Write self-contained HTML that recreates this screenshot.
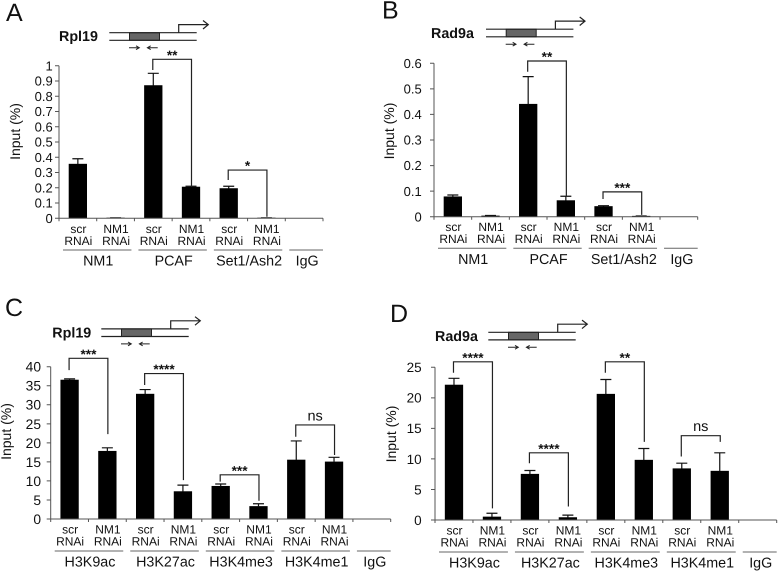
<!DOCTYPE html>
<html lang="en">
<head>
<meta charset="utf-8">
<title>Input (%) ChIP bar charts</title>
<style>
html,body{margin:0;padding:0;background:#fff;}
svg{display:block;font-family:"Liberation Sans",Arial,sans-serif;fill:#111;text-rendering:geometricPrecision;filter:blur(0.3px);}
</style>
</head>
<body>
<svg id="figure" width="778" height="572" viewBox="0 0 778 572" xmlns="http://www.w3.org/2000/svg"></svg>
<script>
const panelAGroups = ['NM1', 'PCAF', 'Set1/Ash2', 'IgG'];
const panelATicks = ['0', '0.1', '0.2', '0.3', '0.4', '0.5', '0.6', '0.7', '0.8', '0.9', '1'];
const panelAValues = [0.355, 0.002, 0.87, 0.205, 0.195, 0.002];
const panelAErrors = [0.39, 0.003, 0.95, 0.21, 0.21, 0.003];
const panelABrackets = [
  {from: 2, to: 3, top: 1.042, leftEnd: 0.972, rightEnd: 0.207, label: '**'},
  {from: 4, to: 5, top: 0.316, leftEnd: 0.251, rightEnd: 0.01, label: '*'}
];

const panelBGroups = ['NM1', 'PCAF', 'Set1/Ash2', 'IgG'];
const panelBTicks = ['0', '0.1', '0.2', '0.3', '0.4', '0.5', '0.6'];
const panelBValues = [0.078, 0.003, 0.44, 0.063, 0.04, 0.002];
const panelBErrors = [0.085, 0.005, 0.548, 0.08, 0.043, 0.003];
const panelBBrackets = [
  {from: 2, to: 3, top: 0.609, leftEnd: 0.567, rightEnd: 0.078, label: '**'},
  {from: 4, to: 5, top: 0.097, leftEnd: 0.069, rightEnd: 0.007, label: '***'}
];

const panelCGroups = ['H3K9ac', 'H3K27ac', 'H3K4me3', 'H3K4me1', 'IgG'];
const panelCTicks = ['0', '5', '10', '15', '20', '25', '30', '35', '40'];
const panelCValues = [36.5, 17.8, 32.8, 7.2, 8.6, 3.3, 15.5, 15];
const panelCErrors = [36.8, 18.7, 34, 8.9, 9.2, 4, 20.5, 16.2];
const panelCBrackets = [
  {from: 0, to: 1, top: 42.2, leftEnd: 39.1, rightEnd: 22.3, label: '***'},
  {from: 2, to: 3, top: 38.2, leftEnd: 35.2, rightEnd: 10.2, label: '****'},
  {from: 4, to: 5, top: 11.6, leftEnd: 9.8, rightEnd: 4.8, label: '***'},
  {from: 6, to: 7, top: 24.7, leftEnd: 21.6, rightEnd: 16.8, label: 'ns'}
];

const panelDGroups = ['H3K9ac', 'H3K27ac', 'H3K4me3', 'H3K4me1', 'IgG'];
const panelDTicks = ['0', '5', '10', '15', '20', '25'];
const panelDValues = [22.1, 0.5, 7.5, 0.4, 20.6, 9.8, 8.4, 8];
const panelDErrors = [23.2, 1.1, 8.1, 0.8, 23, 11.7, 9.3, 11];
const panelDBrackets = [
  {from: 0, to: 1, top: 25.9, leftEnd: 24.1, rightEnd: 1.9, label: '****'},
  {from: 2, to: 3, top: 11, leftEnd: 9.3, rightEnd: 2.2, label: '****'},
  {from: 4, to: 5, top: 25.9, leftEnd: 24.1, rightEnd: 12.8, label: '**'},
  {from: 6, to: 7, top: 13.8, leftEnd: 10.4, rightEnd: 12.8, label: 'ns'}
];

const NS = 'http://www.w3.org/2000/svg';
const root = document.getElementById('figure');

function make(tag, parent, props) {
  const el = document.createElementNS(NS, tag);
  for (const k in props) el.setAttribute(k, props[k]);
  parent.appendChild(el);
  return el;
}
function stroke(parent, d, color, width, name) {
  const el = make('path', parent, {d: d, fill: 'none', stroke: color, 'stroke-width': width});
  
  
  return el;
}
function label(parent, str, x, y, size, anchor, name, weight) {
  const el = make('text', parent, {x: x, y: y, 'font-size': size, 'text-anchor': anchor, 'font-weight': weight || 'normal'});
  el.textContent = str;
  
  
  return el;
}

function geneDiagram(parent, name, nameX, nameY, dx, dy) {
  const g = make('g', parent, {transform: 'translate(' + dx + ' ' + dy + ')'});
  
  
  label(parent, name, nameX, nameY, 14.3, 'start', 'gene-name', 'bold');
  const box = make('rect', g, {x: 129.5, y: 32.7, width: 30, height: 7.6, fill: '#666', stroke: '#222', 'stroke-width': 1});
  
  
  stroke(g, 'M109.3 32.7H196.7M109.3 40.3H196.7', '#222', 1.2, 'promoter-strands');
  stroke(g, 'M178.7 32.7V24.6H208M203 20.5L208.3 24.6L203 29', '#222', 1.2, 'tss-arrow');
  stroke(g, 'M129 47.7H139M136 45.8L139.3 47.7L136 49.6', '#222', 1, 'forward-primer');
  stroke(g, 'M157.7 47.7H147.7M150.7 45.8L147.4 47.7L150.7 49.6', '#222', 1, 'reverse-primer');
}

function drawPanel(cfg) {
  const g = make('g', root, {});
  
  

  const bandCount = cfg.values.length + 1;
  const band = (cfg.x1 - cfg.x0) / bandCount;
  const maxTick = parseFloat(cfg.ticks[cfg.ticks.length - 1]);
  const xCenter = function (i) { return cfg.x0 + band * (i + 0.5); };
  const yScale = function (v) { return cfg.y0 - (v / maxTick) * (cfg.y0 - cfg.yTop); };

  label(g, cfg.letter, cfg.letterX, cfg.letterY, 25, 'start', 'panel-letter');
  geneDiagram(g, cfg.gene, cfg.geneX, cfg.geneY, cfg.geneDx, cfg.geneDy);

  const yTitle = label(g, 'Input (%)', 0, 0, 14, 'middle', 'y-axis-title');
  yTitle.setAttribute('transform', 'translate(' + cfg.titleX + ' ' + cfg.titleY + ') rotate(-90)');

  const barWidth = 18.3;
  cfg.values.forEach(function (v, i) {
    const cx = xCenter(i);
    const top = yScale(v);
    const bar = make('rect', g, {x: cx - barWidth / 2, y: top - 0.3, width: barWidth, height: Math.max(cfg.y0 - top + 0.3, 0.8), fill: '#000'});
    
    
    const ey = yScale(cfg.errors[i]);
    stroke(g, 'M' + cx + ' ' + top + 'V' + ey + 'M' + (cx - 5.5) + ' ' + ey + 'H' + (cx + 5.5), '#111', 1.2, 'error-bar');
  });

  let axisPath = 'M' + cfg.x0 + ' ' + cfg.yTop + 'V' + cfg.y0 + 'H' + cfg.x1;
  cfg.ticks.forEach(function (t) {
    const y = yScale(parseFloat(t));
    axisPath += 'M' + (cfg.x0 - 4) + ' ' + y + 'H' + cfg.x0;
    label(g, t, cfg.tickRight, y + cfg.tickSize * 0.36, cfg.tickSize, 'end', 'y-tick-label');
  });
  for (let i = 0; i <= bandCount; i++) {
    const x = cfg.x0 + band * i;
    axisPath += 'M' + x + ' ' + cfg.y0 + 'v3';
  }
  stroke(g, axisPath, '#555', 1, 'axes');

  cfg.values.forEach(function (v, i) {
    const cx = xCenter(i) + 0.5;
    label(g, i % 2 === 0 ? 'scr' : 'NM1', cx, cfg.line1Y, 12, 'middle', 'x-treatment-label');
    label(g, 'RNAi', cx, cfg.line1Y + 12.2, 12, 'middle', 'x-rnai-label');
  });

  cfg.groups.forEach(function (name, i) {
    const start = cfg.x0 + band * 2 * i;
    const isLast = i === cfg.groups.length - 1;
    const end = isLast ? cfg.x1 : start + band * 2;
    const left = start + 4;
    const right = isLast ? end : end - 3;
    stroke(g, 'M' + left + ' ' + cfg.ruleY + 'H' + right, '#666', 1, 'group-rule');
    label(g, name, (left + right) / 2 + 1, cfg.ruleY + 15.6, 14.3, 'middle', 'group-label');
  });

  cfg.brackets.forEach(function (b) {
    const a = xCenter(b.from) - 0.5;
    const c = xCenter(b.to) + 0.5;
    const top = yScale(b.top);
    stroke(g, 'M' + a + ' ' + yScale(b.leftEnd) + 'V' + top + 'H' + c + 'V' + yScale(b.rightEnd), '#222', 1.2, 'significance-bracket');
    if (b.label === 'ns') {
      label(g, b.label, (a + c) / 2, top - 4.5, 14.5, 'middle', 'significance-label');
    } else {
      label(g, b.label, (a + c) / 2, top + 0.5, 13.7, 'middle', 'significance-label', 'bold');
    }
  });
}

drawPanel({name: 'panel-a', letter: 'A', letterX: 6, letterY: 21, gene: 'Rpl19', geneX: 59, geneY: 41, geneDx: 0, geneDy: 0,
  x0: 59, x1: 323, y0: 218.3, yTop: 65.7, tickRight: 52.7, tickSize: 13, titleX: 20, titleY: 131.5,
  line1Y: 233, ruleY: 250, groups: panelAGroups, ticks: panelATicks, values: panelAValues, errors: panelAErrors, brackets: panelABrackets});
drawPanel({name: 'panel-b', letter: 'B', letterX: 382, letterY: 18.5, gene: 'Rad9a', geneX: 431, geneY: 38, geneDx: 376.7, geneDy: -3.5,
  x0: 434, x1: 697.7, y0: 216.7, yTop: 63.3, tickRight: 421.7, tickSize: 13, titleX: 394, titleY: 131,
  line1Y: 231, ruleY: 248.3, groups: panelBGroups, ticks: panelBTicks, values: panelBValues, errors: panelBErrors, brackets: panelBBrackets});
drawPanel({name: 'panel-c', letter: 'C', letterX: 5, letterY: 316, gene: 'Rpl19', geneX: 52.3, geneY: 337.5, geneDx: -8, geneDy: 296.2,
  x0: 50.7, x1: 390.7, y0: 519, yTop: 366.7, tickRight: 41, tickSize: 13.8, titleX: 11, titleY: 431.5,
  line1Y: 533.5, ruleY: 551, groups: panelCGroups, ticks: panelCTicks, values: panelCValues, errors: panelCErrors, brackets: panelCBrackets});
drawPanel({name: 'panel-d', letter: 'D', letterX: 390, letterY: 322, gene: 'Rad9a', geneX: 435, geneY: 341, geneDx: 379, geneDy: 299.6,
  x0: 435, x1: 776.7, y0: 520, yTop: 367.3, tickRight: 421.7, tickSize: 13.5, titleX: 396, titleY: 434,
  line1Y: 534.5, ruleY: 552, groups: panelDGroups, ticks: panelDTicks, values: panelDValues, errors: panelDErrors, brackets: panelDBrackets});
</script>
</body>
</html>
